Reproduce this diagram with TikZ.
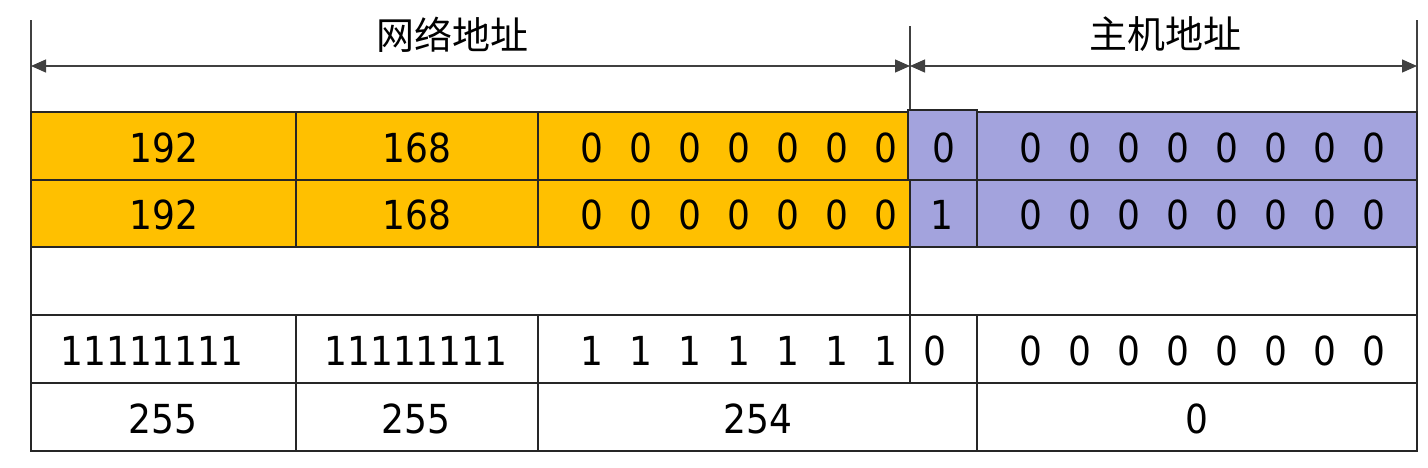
\documentclass[tikz,border=0pt]{standalone}
\usepackage{fontspec}
\setmainfont{DejaVu Sans Condensed}
\newfontfamily\cjk{Noto Sans CJK SC}
\usetikzlibrary{arrows.meta}
\definecolor{netc}{HTML}{FFC000}
\definecolor{hostc}{HTML}{A3A3DD}
\newcommand\mycell[6]{\node[cell, fill=#6, minimum width={#4-#2}, minimum height={#5-#3}] (#1) at (#2,#3) {};}
\begin{document}
\begin{tikzpicture}[x=1pt,y=-1pt,
  cell/.style={draw=black!85, line width=1.7pt, inner sep=0pt, outer sep=0pt, anchor=north west},
  dig/.style={font=\fontsize{40}{40}\selectfont, inner sep=0pt},
  lab/.style={font=\cjk\fontsize{38}{38}\selectfont, inner sep=0pt},
  guide/.style={draw=black!75, line width=1.3pt},
  dimarrow/.style={draw=black!75, line width=1.3pt, {Triangle[length=15pt,width=13pt]}-{Triangle[length=15pt,width=13pt]}}
]
\useasboundingbox (0,0) rectangle (1428,467);
% guide lines and dimension arrows
\coordinate (lt) at (31,20);
\coordinate (lb) at (31,112);
\coordinate (rt) at (1417,20);
\coordinate (rb) at (1417,112);
\coordinate (mt) at (910,26);
\coordinate (mb) at (910,112);
\coordinate (la) at (31,66);
\coordinate (ma) at (910,66);
\coordinate (ra) at (1417,66);
\draw[guide] (lt) -- (lb);
\draw[guide] (rt) -- (rb);
\draw[guide] (mt) -- (mb);
\draw[dimarrow] (la) -- (ma);
\draw[dimarrow] (ma) -- (ra);
\node[lab] (netlab) at (452,35) {网络地址};
\node[lab] (hostlab) at (1165,34) {主机地址};
% row 3 (empty)
\mycell{r3}{31}{247}{1417}{315}{white}
\coordinate (m3t) at (910,247);
\coordinate (m3b) at (910,315);
\draw[cell] (m3t) -- (m3b);
% row 1
\mycell{a1}{31}{112}{296}{180}{netc}
\mycell{b1}{296}{112}{538}{180}{netc}
\mycell{c1}{538}{112}{908}{180}{netc}
\mycell{d1}{908}{110}{977}{180}{hostc}
\mycell{e1}{977}{112}{1417}{180}{hostc}
% row 2
\mycell{a2}{31}{180}{296}{247}{netc}
\mycell{b2}{296}{180}{538}{247}{netc}
\mycell{c2}{538}{180}{910}{247}{netc}
\mycell{d2}{910}{180}{977}{247}{hostc}
\mycell{e2}{977}{180}{1417}{247}{hostc}
% row 4
\mycell{a4}{31}{315}{296}{383}{white}
\mycell{b4}{296}{315}{538}{383}{white}
\mycell{c4}{538}{315}{910}{383}{white}
\mycell{d4}{910}{315}{977}{383}{white}
\mycell{e4}{977}{315}{1417}{383}{white}
% row 5
\mycell{a5}{31}{383}{296}{451}{white}
\mycell{b5}{296}{383}{538}{451}{white}
\mycell{c5}{538}{383}{977}{451}{white}
\mycell{e5}{977}{383}{1417}{451}{white}
% texts
\node[dig] (t1a) at (164,148) {192};
\node[dig] (t1b) at (417,148) {168};
\node[dig] (t2a) at (164,215) {192};
\node[dig] (t2b) at (417,215) {168};
\node[dig] (t4a) at (152,351) {11111111};
\node[dig] (t4b) at (416,351) {11111111};
\node[dig] (t5a) at (163,419) {255};
\node[dig] (t5b) at (416,419) {255};
\node[dig] (t5c) at (758,419) {254};
\node[dig] (t5e) at (1197,419) {0};
\node[dig] (t1d) at (944,148) {0};
\node[dig] (t2d) at (942,215) {1};
\node[dig] (t4d) at (935,351) {0};
\foreach \i in {0,...,6} {
  \node[dig] (z1\i) at (592+49*\i,148) {0};
  \node[dig] (z2\i) at (592+49*\i,215) {0};
  \node[dig] (o4\i) at (592+49*\i,351) {1};
}
\foreach \i in {0,...,7} {
  \node[dig] (h1\i) at (1031+49*\i,148) {0};
  \node[dig] (h2\i) at (1031+49*\i,215) {0};
  \node[dig] (h4\i) at (1031+49*\i,351) {0};
}
\end{tikzpicture}
\end{document}
